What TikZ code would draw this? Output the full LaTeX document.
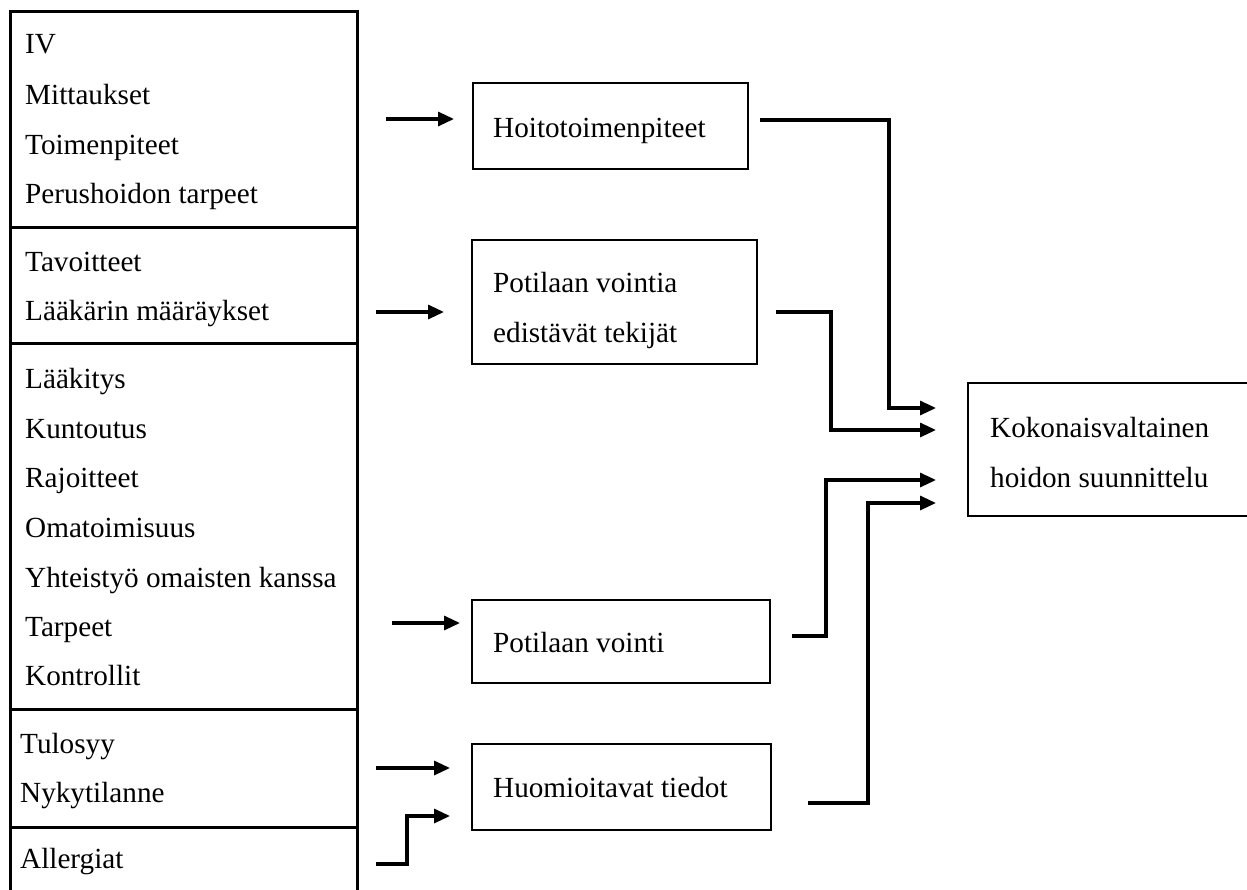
\documentclass[tikz,border=0pt]{standalone}
\usepackage{fontspec}
\setmainfont{Liberation Serif}
\usetikzlibrary{arrows.meta}

\begin{document}
\begin{tikzpicture}[x=1pt, y=-1pt,
    every node/.style={font=\fontsize{29.2}{52}\selectfont},
    item/.style={anchor=base west, inner sep=0pt},
    box/.style={rectangle, draw, line width=2pt, inner sep=0pt},
    lbox/.style={line width=3pt},
    arrow/.style={-{Triangle[length=16pt, width=14pt]}, line width=3.2pt}
]
\useasboundingbox[fill=white] (0,0) rectangle (1247,889);

% left column
\draw[lbox] (10,895) -- (10,11) -- (357,11) -- (357,895);
\draw[lbox] (10,227) -- (357,227);
\draw[lbox] (10,343) -- (357,343);
\draw[lbox] (10,709) -- (357,709);
\draw[lbox] (10,827) -- (357,827);

\node[item] (iv) at (25,53) {IV};
\node[item] (mitt) at (25,104) {Mittaukset};
\node[item] (toim) at (25,154) {Toimenpiteet};
\node[item] (perus) at (25,203) {Perushoidon tarpeet};
\node[item] (tavo) at (25,271) {Tavoitteet};
\node[item] (laak) at (25,320) {Lääkärin määräykset};
\node[item] (laakit) at (25,388) {Lääkitys};
\node[item] (kunt) at (25,438) {Kuntoutus};
\node[item] (rajo) at (25,487) {Rajoitteet};
\node[item] (omat) at (25,537) {Omatoimisuus};
\node[item] (yhte) at (25,587) {Yhteistyö omaisten kanssa};
\node[item] (tarp) at (25,636) {Tarpeet};
\node[item] (kont) at (25,685) {Kontrollit};
\node[item] (tulo) at (20,753) {Tulosyy};
\node[item] (nyky) at (20,802) {Nykytilanne};
\node[item] (alle) at (20,868) {Allergiat};

% middle boxes
\node[box, minimum width=275pt, minimum height=86pt] (hoito) at (610.5,126) {};
\node[item] (hoitoT) at (493,137) {Hoitotoimenpiteet};
\node[box, minimum width=285pt, minimum height=124pt] (edist) at (614.5,302) {};
\node[item] (edistT1) at (493,292) {Potilaan vointia};
\node[item] (edistT2) at (493,342) {edistävät tekijät};
\node[box, minimum width=298pt, minimum height=83pt] (vointi) at (621,641.5) {};
\node[item] (vointiT) at (493,652) {Potilaan vointi};
\node[box, minimum width=299pt, minimum height=86pt] (huom) at (621.5,787) {};
\node[item] (huomT) at (493,797) {Huomioitavat tiedot};

% result box
\node[box, minimum width=292pt, minimum height=133pt] (koko) at (1114,449.5) {};
\node[item] (kokoT1) at (990,437) {Kokonaisvaltainen};
\node[item] (kokoT2) at (990,487) {hoidon suunnittelu};

% free ends of connectors
\coordinate (in1) at (386,119);  \coordinate (in1e) at (454,119);
\coordinate (in2) at (376,312);  \coordinate (in2e) at (444,312);
\coordinate (in3) at (392,623);  \coordinate (in3e) at (460,623);
\coordinate (in4) at (376,768);  \coordinate (in4e) at (450,768);
\coordinate (in5) at (376,864);  \coordinate (in5e) at (450,816);
\coordinate (out1) at (760,120); \coordinate (to1) at (936,408);
\coordinate (out2) at (776,312); \coordinate (to2) at (936,430);
\coordinate (out3) at (792,636); \coordinate (to3) at (936,480);
\coordinate (out4) at (808,803); \coordinate (to4) at (936,503);

\draw[arrow] (in1) -- (in1e);
\draw[arrow] (in2) -- (in2e);
\draw[arrow] (in3) -- (in3e);
\draw[arrow] (in4) -- (in4e);
\draw[arrow] (in5) -- (407,864) -- (407,816) -- (in5e);

\draw[arrow] (out1) -- (889,120) -- (889,408) -- (to1);
\draw[arrow] (out2) -- (831,312) -- (831,430) -- (to2);
\draw[arrow] (out3) -- (826,636) -- (826,480) -- (to3);
\draw[arrow] (out4) -- (868,803) -- (868,503) -- (to4);
\end{tikzpicture}
\end{document}
